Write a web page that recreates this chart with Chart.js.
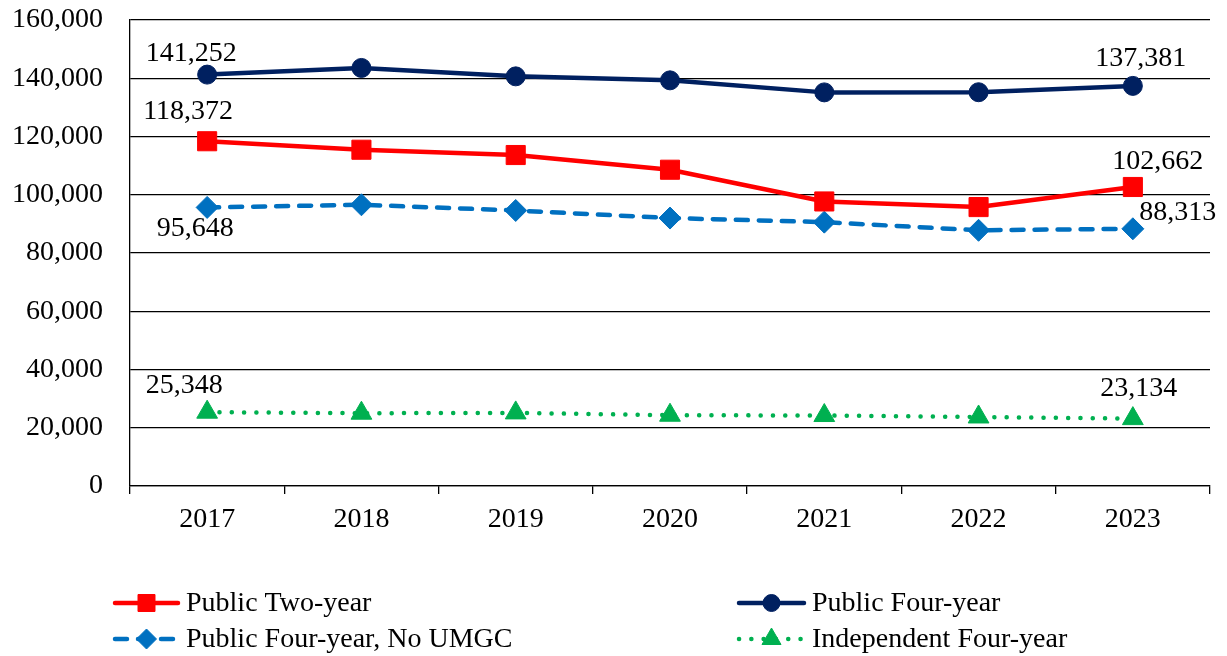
<!DOCTYPE html>
<html><head><meta charset="utf-8">
<script src="https://cdn.jsdelivr.net/npm/chart.js@4/dist/chart.umd.min.js"></script>
<style>html,body{margin:0;padding:0;background:#fff;}canvas{display:block;}</style>
</head><body>
<canvas id="c" width="1227" height="656"></canvas>
<script>
// ---- data ----
const years = ['2017', '2018', '2019', '2020', '2021', '2022', '2023'];
const publicTwoYear = [118372, 115460, 113640, 108590, 97700, 95770, 102662];
const publicFourYear = [141252, 143540, 140650, 139280, 135150, 135200, 137381];
const publicFourYearNoUMGC = [95648, 96560, 94600, 92000, 90600, 87800, 88313];
const independentFourYear = [25348, 25000, 25100, 24300, 24200, 23700, 23134];
const seriesNames = ['Public Two-year', 'Public Four-year', 'Public Four-year, No UMGC', 'Independent Four-year'];
const yTickValues = [0, 20000, 40000, 60000, 80000, 100000, 120000, 140000, 160000];
const labeledIndices = [0, 6];

// ---- styles ----
const FONT = '"Liberation Serif", "Times New Roman", serif';
const styles = [
  { color: '#FF0000', pointStyle: 'rect', radius: 13.5, dash: [], cap: 'round', width: 4.5, legendRadius: 12 },
  { color: '#002060', pointStyle: 'circle', radius: 9.5, dash: [], cap: 'round', width: 4.5, legendRadius: 8.5 },
  { color: '#0070C0', pointStyle: 'rectRot', radius: 11, dash: [12, 11], cap: 'round', width: 4.5, legendRadius: 10 },
  { color: '#00B050', pointStyle: 'triangle', radius: 12, dash: [0.1, 12.2], cap: 'round', width: 4.5, legendRadius: 11 }
];
// label offsets (dx, dy) relative to the point, per series, for first and last point
const labelOffsets = [
  [[-19, -30], [25, -25]],
  [[-16, -21], [8, -27]],
  [[-12, 21], [45, -16]],
  [[-23, -27], [6, -30]]
];
// legend layout
const legendItems = [
  { x0: 113, x1: 180, ty: 603 },
  { x0: 737, x1: 806, ty: 603 },
  { x0: 113, x1: 180, ty: 639 },
  { x0: 737, x1: 806, ty: 639 }
];

const allSeries = [publicTwoYear, publicFourYear, publicFourYearNoUMGC, independentFourYear];

const datasets = allSeries.map((d, i) => ({
  label: seriesNames[i],
  data: d,
  borderColor: styles[i].color,
  backgroundColor: styles[i].color,
  borderWidth: styles[i].width,
  borderDash: styles[i].dash,
  borderCapStyle: styles[i].cap,
  borderJoinStyle: 'round',
  pointStyle: styles[i].pointStyle,
  pointRadius: styles[i].radius,
  pointHoverRadius: styles[i].radius,
  pointBackgroundColor: styles[i].color,
  pointBorderColor: styles[i].color,
  pointBorderWidth: 1,
  tension: 0,
  fill: false
}));

function drawMarker(ctx, style, r, x, y) {
  ctx.save();
  ctx.fillStyle = style.color;
  ctx.strokeStyle = style.color;
  ctx.lineWidth = 1;
  ctx.setLineDash([]);
  ctx.beginPath();
  if (style.pointStyle === 'rect') {
    const s = Math.SQRT1_2 * r;
    ctx.rect(x - s, y - s, 2 * s, 2 * s);
  } else if (style.pointStyle === 'circle') {
    ctx.arc(x, y, r, 0, Math.PI * 2);
  } else if (style.pointStyle === 'rectRot') {
    ctx.moveTo(x, y - r); ctx.lineTo(x + r, y); ctx.lineTo(x, y + r); ctx.lineTo(x - r, y); ctx.closePath();
  } else if (style.pointStyle === 'triangle') {
    let a = 0;
    ctx.moveTo(x + Math.sin(a) * r, y - Math.cos(a) * r);
    a += 2 * Math.PI / 3; ctx.lineTo(x + Math.sin(a) * r, y - Math.cos(a) * r);
    a += 2 * Math.PI / 3; ctx.lineTo(x + Math.sin(a) * r, y - Math.cos(a) * r);
    ctx.closePath();
  }
  ctx.fill();
  ctx.stroke();
  ctx.restore();
}

const valueLabels = {
  id: 'valueLabels',
  afterDatasetsDraw(chart) {
    const ctx = chart.ctx;
    ctx.save();
    ctx.font = '28px ' + FONT;
    ctx.fillStyle = '#000';
    ctx.textAlign = 'center';
    ctx.textBaseline = 'middle';
    chart.data.datasets.forEach((ds, di) => {
      const meta = chart.getDatasetMeta(di);
      labeledIndices.forEach((idx, k) => {
        const el = meta.data[idx];
        const off = labelOffsets[di][k];
        ctx.fillText(ds.data[idx].toLocaleString('en-US'), el.x + off[0], el.y + off[1]);
      });
    });
    ctx.restore();
  }
};

const customLegend = {
  id: 'customLegend',
  afterDraw(chart) {
    const ctx = chart.ctx;
    chart.data.datasets.forEach((ds, i) => {
      const it = legendItems[i];
      const st = styles[i];
      ctx.save();
      ctx.strokeStyle = st.color;
      ctx.lineWidth = st.width;
      ctx.lineCap = st.cap;
      ctx.setLineDash(st.dash);
      ctx.beginPath();
      ctx.moveTo(it.x0 + 2, it.ty);
      ctx.lineTo(it.x1 - 2, it.ty);
      ctx.stroke();
      ctx.restore();
      drawMarker(ctx, st, st.legendRadius, (it.x0 + it.x1) / 2, it.ty);
      ctx.save();
      ctx.font = '28px ' + FONT;
      ctx.fillStyle = '#000';
      ctx.textAlign = 'left';
      ctx.textBaseline = 'middle';
      ctx.fillText(ds.label, it.x1 + 6, it.ty + 1);
      ctx.restore();
    });
  }
};

new Chart(document.getElementById('c'), {
  type: 'line',
  data: { labels: years, datasets },
  options: {
    responsive: false,
    animation: false,
    events: [],
    layout: { padding: { top: 20, right: 17, left: 0, bottom: 0 } },
    plugins: { legend: { display: false }, tooltip: { enabled: false } },
    scales: {
      x: {
        offset: true,
        grid: { offset: true, drawOnChartArea: false, drawTicks: true, tickLength: 8, color: '#000', lineWidth: 1.3 },
        border: { display: true, color: '#000', width: 1.3 },
        ticks: { font: { family: FONT, size: 28 }, color: '#000', padding: 9, maxRotation: 0, autoSkip: false },
        afterFit(s) { s.height = 170; }
      },
      y: {
        min: 0,
        max: 160000,
        afterBuildTicks(s) { s.ticks = yTickValues.map(v => ({ value: v })); },
        ticks: { font: { family: FONT, size: 28 }, color: '#000', padding: 27, callback: v => v.toLocaleString('en-US') },
        grid: { color: '#000', lineWidth: 1.3, drawTicks: false },
        border: { display: true, color: '#000', width: 1.3 },
        afterFit(s) { s.width = 130; s.paddingTop = 0; s.paddingBottom = 0; }
      }
    }
  },
  plugins: [valueLabels, customLegend]
});
</script>
</body></html>
